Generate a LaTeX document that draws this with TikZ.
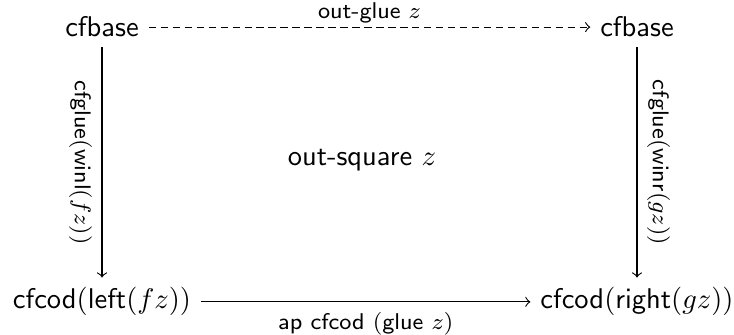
\documentclass[tikz,border=0pt]{standalone}
\usetikzlibrary{arrows}
\begin{document}
% Commutative square: pixel-like units, y grows downward
\begin{tikzpicture}[x=0.3509pt, y=-0.3509pt,
  obj/.style={inner sep=3.33pt, font=\sffamily},
  lbl/.style={inner sep=3.33pt, font=\sffamily\footnotesize},
  toplbl/.style={inner sep=1.2pt, font=\sffamily\footnotesize},
  arr/.style={->, line width=0.4pt},
  dashline/.style={dash pattern=on 2.6pt off 1.6pt}]
\useasboundingbox (0,0) rectangle (734,335);

% corner objects
\node[obj, anchor=base] (tl) at (102,37) {cfbase};
\node[obj, anchor=base] (tr) at (637,37) {cfbase};
\node[obj, anchor=base] (bl) at (102,309) {$\mathsf{cfcod}(\mathsf{left}(f z))$};
\node[obj, anchor=base] (br) at (637,309) {$\mathsf{cfcod}(\mathsf{right}(g z))$};

% name of the square
\node[obj] (sq) at (362,160) {out-square $z$};

% maps
\draw[arr, dashline] (tl) -- node[toplbl, above] {out-glue $z$} (tr);
\draw[arr] (bl) -- node[lbl, below] {$\mathsf{ap}\ \mathsf{cfcod}\ (\mathsf{glue}\ z)$} (br);
\draw[arr] (tl) -- node[lbl, sloped, below] {$\mathsf{cfglue}(\mathsf{winl}(f z))$} (bl);
\draw[arr] (tr) -- node[lbl, sloped, above] {$\mathsf{cfglue}(\mathsf{winr}(g z))$} (br);
\end{tikzpicture}
\end{document}
